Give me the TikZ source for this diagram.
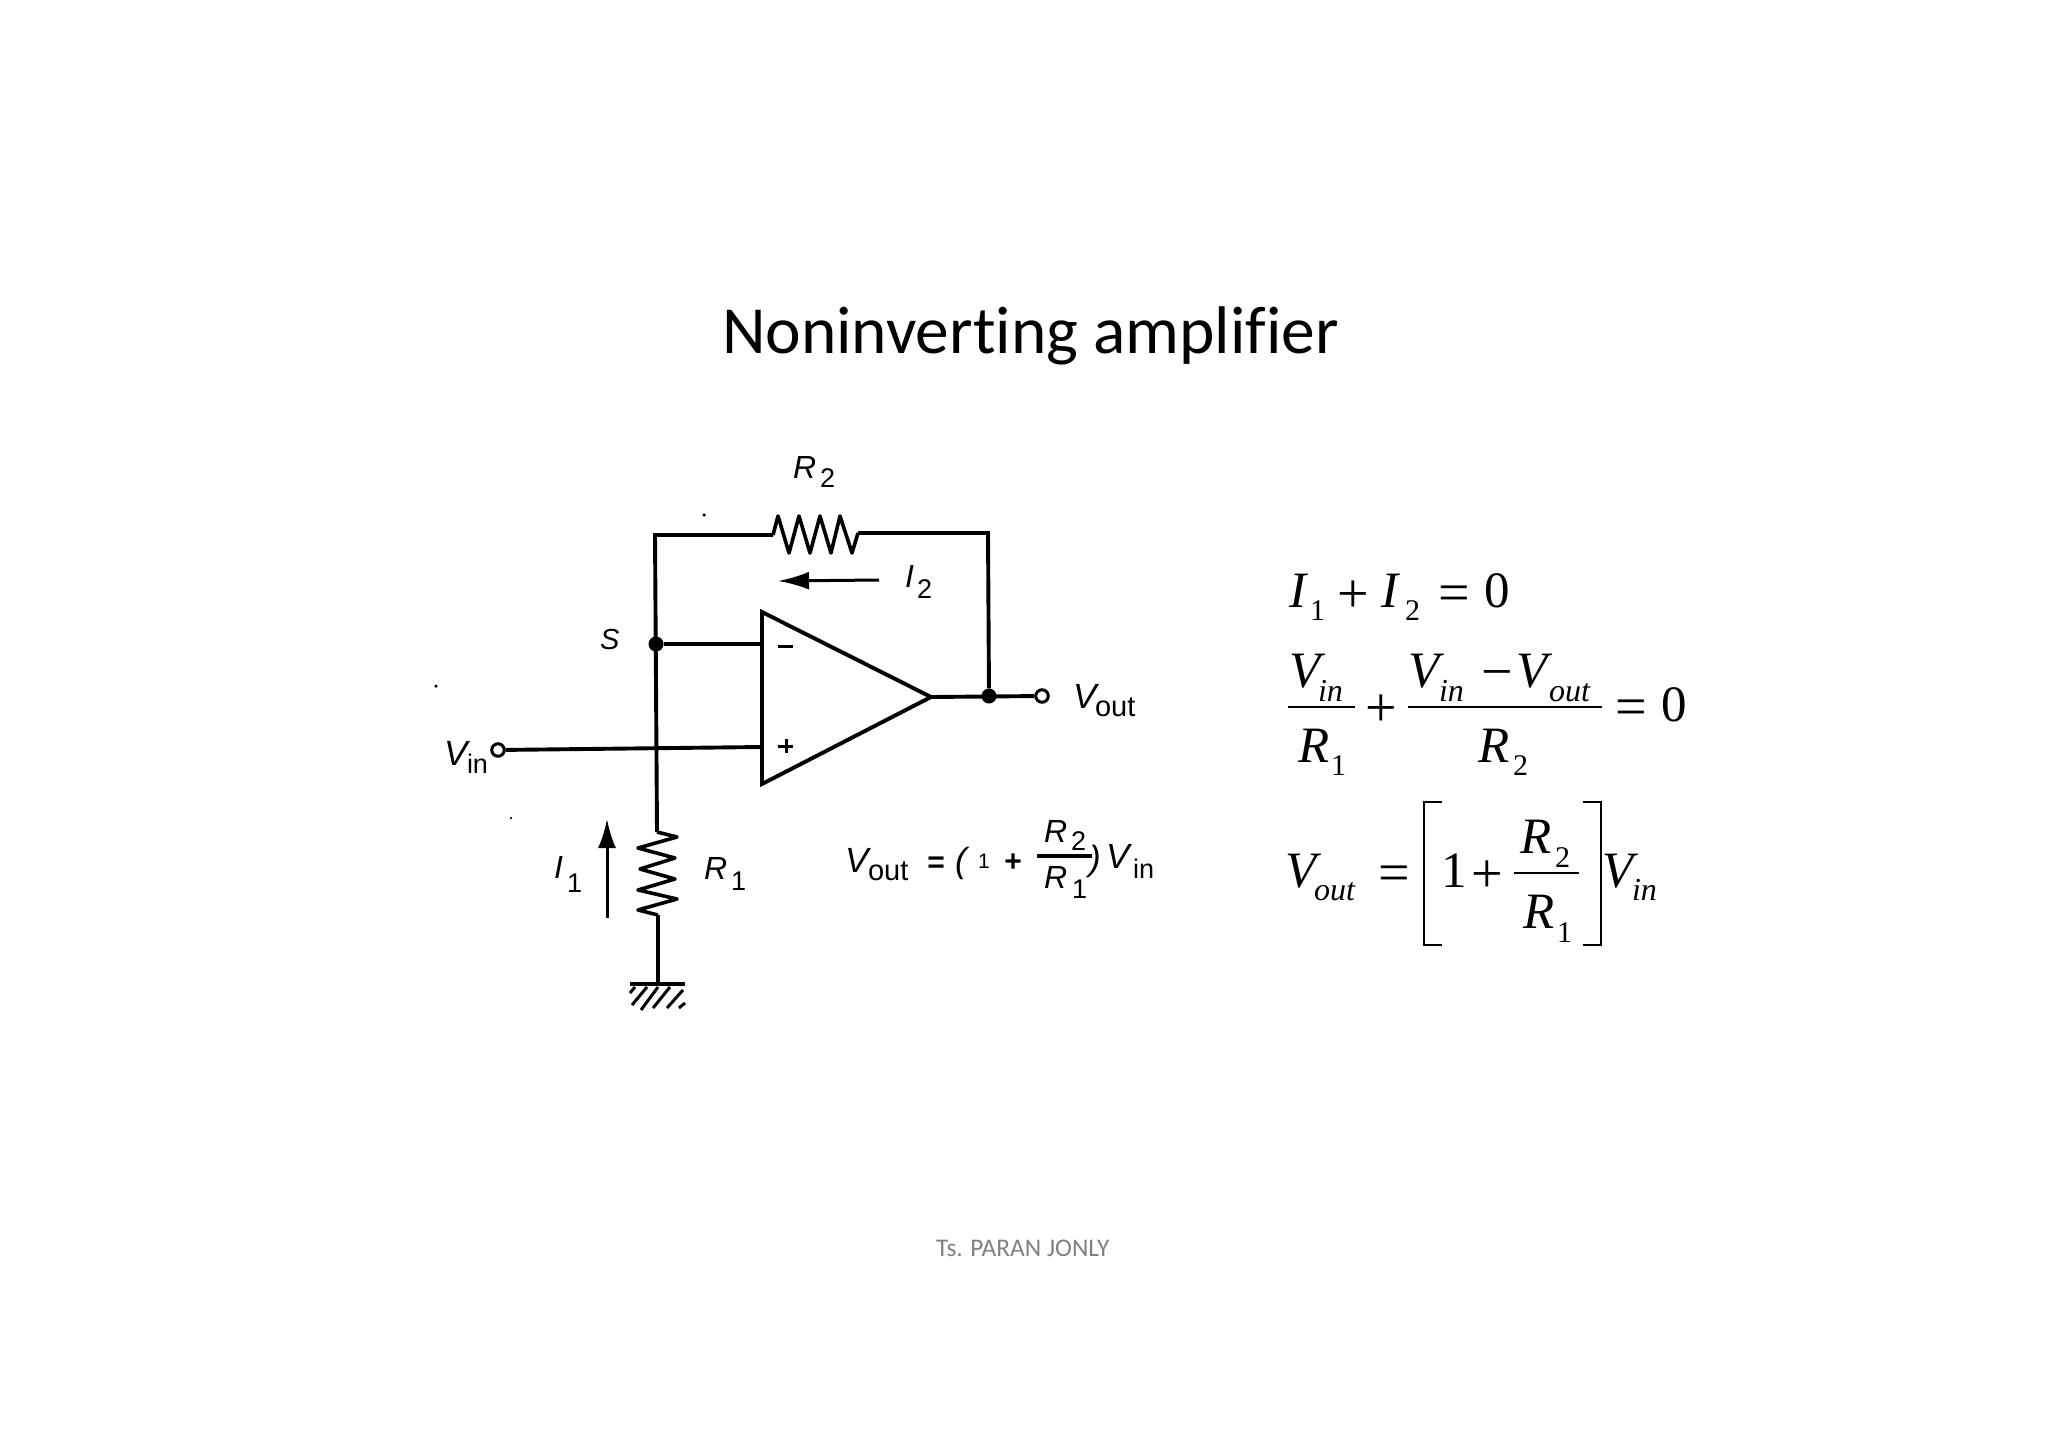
\documentclass[tikz,border=0pt]{standalone}
\usepackage{fontspec}
\setmainfont[Ligatures=NoCommon]{Carlito}
\newfontfamily\hv{Liberation Sans}
\newfontfamily\tm{Liberation Serif}
\usetikzlibrary{arrows.meta}
\newcommand{\fsz}[1]{\fontsize{#1}{#1}\selectfont}
\tikzset{
  x=1pt,y=-1pt,
  tx/.style={anchor=base west,inner sep=0pt,outer sep=0pt},
  cb/.style={tx,font=\hv\itshape\fsz{32}},
  cv/.style={tx,font=\hv\itshape\fsz{35}},
  cs/.style={tx,font=\hv\fsz{27}},
  co/.style={tx,font=\hv\fsz{29}},
  cc/.style={anchor=center,inner sep=0pt,outer sep=0pt,font=\hv\bfseries\fsz{30}},
  eb/.style={tx,font=\tm\itshape\fsz{51}},
  en/.style={tx,font=\tm\fsz{51}},
  es/.style={tx,font=\tm\fsz{30}},
  ei/.style={tx,font=\tm\itshape\fsz{32}},
  eo/.style={anchor=center,inner sep=0pt,outer sep=0pt,font=\tm\fsz{56}},
  wire/.style={draw=black,line width=3.9pt,line join=miter},
  thin wire/.style={draw=black,line width=3pt},
  res/.style={draw=black,line width=3.6pt,line join=round},
  eqline/.style={draw=black,line width=1.6pt},
  junction/.style={circle,fill=black,draw=none,minimum size=15pt,inner sep=0pt},
  terminal/.style={circle,fill=white,draw=black,line width=3pt,minimum size=12.5pt,inner sep=0pt},
  speck/.style={circle,fill=black,draw=none,minimum size=3.5pt,inner sep=0pt}
}
\begin{document}
\begin{tikzpicture}
\useasboundingbox[fill=white] (0,0) rectangle (2048,1448);

% texts
\node[tx,font=\fsz{67.4}] (title) at (722,353) {Noninverting amplifier};
\node[tx,font=\fsz{25.4},text=black!50] (foot) at (936,1256) {Ts. PARAN JONLY};

% circuit points
\coordinate (tl) at (655,535);
\coordinate (r2a) at (773,535);
\coordinate (r2b) at (858,533);
\coordinate (tr) at (988,533);
\coordinate (oa1) at (762,612);
\coordinate (oa2) at (762,784);
\coordinate (oa3) at (931,697);
\coordinate (inn) at (762,644);
\coordinate (inp) at (762,747);
\coordinate (r1a) at (657,832);
\coordinate (r1b) at (658,915);
\coordinate (gnd) at (658,984);
\coordinate (gl) at (630,984);
\coordinate (gr) at (685,984);

\node[junction] (js) at (656,644) {};
\node[junction] (jo) at (989,696) {};
\node[terminal] (tin) at (498,750) {};
\node[terminal] (tout) at (1042,696) {};

% wires
\draw[wire] (r2a) -- (tl) -- (r1a);
\draw[wire] (r2b) -- (tr) -- (jo);
\draw[wire] (js) -- (inn);
\draw[wire] (tin) -- (inp);
\draw[wire] (oa3) -- (tout);
\draw[wire] (r1b) -- (gnd);
\draw[wire] (gl) -- (gr);
\draw[wire,line join=miter] (oa1) -- (oa3) -- (oa2) -- cycle;

% resistors
\draw[res] (r2a) -- (778,516) -- (789,553) -- (799,516) -- (810,553) -- (820,516) -- (831,553) -- (840,516) -- (852,553) -- (r2b);
\draw[res] (r1a) -- (677,837) -- (638,848) -- (675,858) -- (640,869) -- (675,879) -- (638,890) -- (677,899) -- (638,910) -- (r1b);

% ground hatch
\draw[thin wire] (635,987) -- (630,993);
\draw[thin wire] (647,987) -- (632,1005);
\draw[thin wire] (658,987) -- (641,1010);
\draw[thin wire] (670,987) -- (653,1008);
\draw[thin wire] (683,990) -- (667,1008);
\draw[thin wire] (685,1003) -- (679,1008);

% opamp signs
\draw[thin wire] (778,646) -- (793,646);
\draw[thin wire] (778,746) -- (793,746);
\draw[thin wire] (786,739) -- (786,753);

% current arrows
\coordinate (i1a) at (607,918);
\coordinate (i1b) at (607,819);
\coordinate (i2a) at (879,580);
\coordinate (i2b) at (778,581);
\draw[line width=3pt,-{Latex[length=29pt,width=18pt]}] (i1a) -- (i1b);
\draw[line width=3pt,-{Latex[length=31pt,width=18pt]}] (i2a) -- (i2b);

% circuit labels
\node[cb] (lr2) at (793,478) {R};
\node[cs] (lr2s) at (820,487) {2};
\node[cb] (li2) at (905,587) {I};
\node[cs] (li2s) at (917,598) {2};
\node[cb,font=\hv\itshape\fsz{29}] (ls) at (600,649) {S};
\node[cv] (lvo) at (1073,708) {V};
\node[co] (lvos) at (1095,716) {out};
\node[cv] (lvi) at (444,765) {V};
\node[co,font=\hv\fsz{27}] (lvis) at (467,773) {in};
\node[cb] (li1) at (554,878) {I};
\node[cs] (li1s) at (567,892) {1};
\node[cb] (lr1) at (704,879) {R};
\node[cs] (lr1s) at (731,890) {1};

% circuit formula
\node[cv] (fv) at (845,872) {V};
\node[co] (fvs) at (868,880) {out};
\node[cc] (feq) at (936,865) {=};
\node[cv] (flp) at (955,872) {(};
\node[cs,font=\hv\fsz{21}] (f1) at (978,868) {1};
\node[cc] (fp) at (1013,863) {+};
\coordinate (fl1) at (1037,856);
\coordinate (fl2) at (1092,856);
\draw[line width=4pt] (fl1) -- (fl2);
\node[cb] (fr2) at (1044,842) {R};
\node[cs] (fr2s) at (1071,850) {2};
\node[cb] (fr1) at (1044,888) {R};
\node[cs] (fr1s) at (1072,898) {1};
\node[cv] (frp) at (1089,870) {)};
\node[cv] (fvi) at (1106,868) {V};
\node[co,font=\hv\fsz{27}] (fvis) at (1133,878) {in};

% equation 1
\node[eb] (a1) at (1289,607) {I};
\node[es] (a2) at (1310,620) {1};
\node[eo] (a3) at (1353,597) {+};
\node[eb] (a4) at (1381,607) {I};
\node[es] (a5) at (1405,620) {2};
\node[eo] (a6) at (1454,599) {=};
\node[en] (a7) at (1484,607) {0};

% equation 2
\node[eb] (b1) at (1289,687) {V};
\node[ei] (b2) at (1318,701) {in};
\coordinate (bl1) at (1288,707);
\coordinate (bl2) at (1355,707);
\draw[eqline] (bl1) -- (bl2);
\node[eb] (b3) at (1298,762) {R};
\node[es] (b4) at (1331,775) {1};
\node[eo] (b5) at (1381,711) {+};
\node[eb] (b6) at (1408,687) {V};
\node[ei] (b7) at (1439,701) {in};
\node[eo] (b8) at (1497,680) {−};
\node[eb] (b9) at (1516,687) {V};
\node[ei] (b10) at (1549,701) {out};
\coordinate (bl3) at (1408,707);
\coordinate (bl4) at (1602,707);
\draw[eqline] (bl3) -- (bl4);
\node[eb] (b11) at (1478,762) {R};
\node[es] (b12) at (1513,775) {2};
\node[eo] (b13) at (1631,713) {=};
\node[en] (b14) at (1661,721) {0};

% equation 3
\node[eb] (c1) at (1285,887) {V};
\node[ei] (c2) at (1314,900) {out};
\node[eo] (c3) at (1394,879) {=};
\coordinate (p1) at (1442,802);
\coordinate (p2) at (1424,802);
\coordinate (p3) at (1424,945);
\coordinate (p4) at (1442,945);
\draw[eqline,line width=1.9pt] (p1) -- (p2) -- (p3) -- (p4);
\node[en] (c4) at (1441,887) {1};
\node[eo] (c5) at (1487,877) {+};
\coordinate (cl1) at (1514,873);
\coordinate (cl2) at (1579,873);
\draw[eqline] (cl1) -- (cl2);
\node[eb] (c6) at (1520,853) {R};
\node[es] (c7) at (1555,867) {2};
\node[eb] (c8) at (1523,928) {R};
\node[es] (c9) at (1557,942) {1};
\coordinate (q1) at (1583,802);
\coordinate (q2) at (1601,802);
\coordinate (q3) at (1601,945);
\coordinate (q4) at (1583,945);
\draw[eqline,line width=1.9pt] (q1) -- (q2) -- (q3) -- (q4);
\node[eb] (c10) at (1602,887) {V};
\node[ei] (c11) at (1632,900) {in};

% specks
\node[speck] (s1) at (704,515) {};
\node[speck] (s2) at (436,686) {};
\node[speck,minimum size=2.5pt] (s3) at (511,818) {};
\end{tikzpicture}
\end{document}
